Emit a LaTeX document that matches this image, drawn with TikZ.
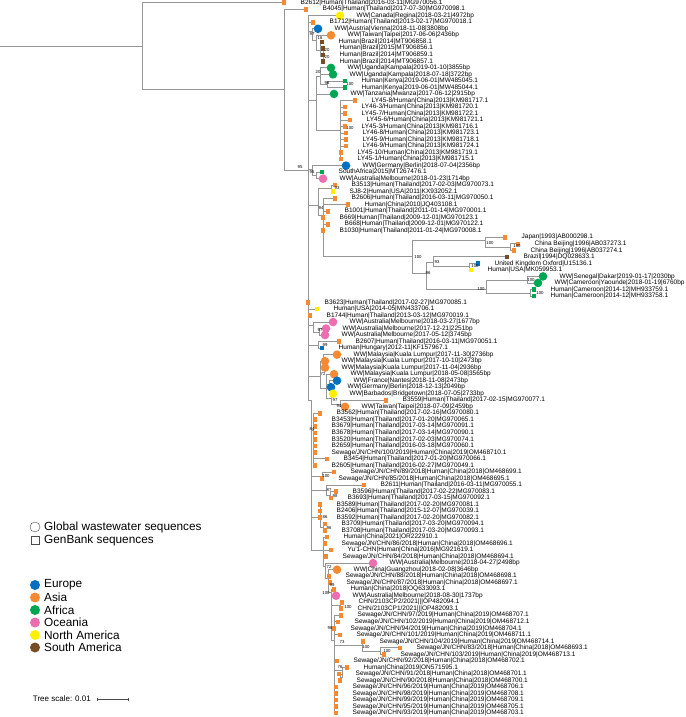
\documentclass[tikz,border=0pt]{standalone}
\usepackage{fontspec}
\setmainfont{Liberation Sans}
\usetikzlibrary{positioning}

\definecolor{asia}{RGB}{246,138,51}
\definecolor{europe}{RGB}{0,112,192}
\definecolor{africa}{RGB}{0,166,81}
\definecolor{oceania}{RGB}{236,110,176}
\definecolor{namer}{RGB}{255,240,0}
\definecolor{samer}{RGB}{117,76,36}
\definecolor{twig}{RGB}{150,150,150}

\pgfdeclarelayer{bg}
\pgfsetlayers{bg,main}

\tikzset{
  sq/.style={rectangle, minimum size=4.6pt, inner sep=0pt, fill=#1},
  ww/.style={circle, minimum size=8.6pt, inner sep=0pt, fill=#1},
  lbl/.style={anchor=west, inner sep=0pt, font=\fontsize{6.5}{7}\selectfont},
  bs/.style={inner sep=0pt, font=\fontsize{4.3}{4.3}\selectfont},
  branch/.style={draw=twig, line width=0.8pt},
  leg/.style={inner sep=0pt, anchor=west, font=\fontsize{11.8}{12}\selectfont}
}

% one tip: row, x of the symbol, symbol style, label
\newcommand{\leaf}[4]{%
  \node[#3] (L#1) at (#2,{2.7+6.517*#1}) {};
  \node[lbl] (T#1) at ({#2+16.5},{2.7+6.517*#1}) {#4};}
% parent and its children
\newcommand{\kids}[2]{\foreach \k in {#2} {\draw[branch] (#1) |- (\k);}}

\begin{document}
\begin{tikzpicture}[x=1pt, y=-1pt]
\useasboundingbox (0,0) rectangle (685,717);

% tips
\leaf{0}{284}{sq=asia}{B2612|Human|Thailand|2016-03-11|MG970056.1}
\leaf{1}{306}{sq=asia}{B4045|Human|Thailand|2017-07-30|MG970098.1}
\leaf{2}{340}{ww=namer}{WW|Canada|Regina|2018-03-21|4972bp}
\leaf{3}{313}{sq=asia}{B1712|Human|Thailand|2013-02-17|MG970018.1}
\leaf{4}{318}{ww=europe}{WW|Austria|Vienna|2018-11-08|3808bp}
\leaf{5}{331}{ww=asia}{WW|Taiwan|Taipei|2017-06-06|2436bp}
\leaf{6}{322}{sq=samer}{Human|Brazil|2014|MT906858.1}
\leaf{7}{323}{sq=samer}{Human|Brazil|2015|MT906856.1}
\leaf{8}{323}{sq=samer}{Human|Brazil|2014|MT906859.1}
\leaf{9}{323}{sq=samer}{Human|Brazil|2014|MT906857.1}
\leaf{10}{331}{ww=africa}{WW|Uganda|Kampala|2019-01-10|3855bp}
\leaf{11}{333}{ww=africa}{WW|Uganda|Kampala|2018-07-18|3722bp}
\leaf{12}{345}{sq=africa}{Human|Kenya|2019-06-01|MW485045.1}
\leaf{13}{345}{sq=africa}{Human|Kenya|2019-06-01|MW485044.1}
\leaf{14}{334}{ww=africa}{WW|Tanzania|Mwanza|2017-06-12|2915bp}
\leaf{15}{355}{sq=asia}{LY45-8/Human|China|2013|KM981717.1}
\leaf{16}{345}{sq=asia}{LY46-3/Human|China|2013|KM981720.1}
\leaf{17}{345}{sq=asia}{LY45-7/Human|China|2013|KM981722.1}
\leaf{18}{350}{sq=asia}{LY45-6/Human|China|2013|KM981721.1}
\leaf{19}{345}{sq=asia}{LY45-3/Human|China|2013|KM981716.1}
\leaf{20}{346}{sq=asia}{LY46-8/Human|China|2013|KM981723.1}
\leaf{21}{346}{sq=asia}{LY45-9/Human|China|2013|KM981718.1}
\leaf{22}{346}{sq=asia}{LY46-9/Human|China|2013|KM981724.1}
\leaf{23}{341}{sq=asia}{LY45-10/Human|China|2013|KM981719.1}
\leaf{24}{341}{sq=asia}{LY45-1/Human|China|2013|KM981715.1}
\leaf{25}{346}{ww=europe}{WW|Germany|Berlin|2018-07-04|2356bp}
\leaf{26}{322}{sq=africa}{SouthAfrica|2015|MT267476.1}
\leaf{27}{323}{ww=oceania}{WW|Australia|Melbourne|2018-01-23|1714bp}
\leaf{28}{335}{sq=asia}{B3513|Human|Thailand|2017-02-03|MG970073.1}
\leaf{29}{333}{sq=namer}{SJ8-2|Human|USA|2011|KX932052.1}
\leaf{30}{335}{sq=asia}{B2606|Human|Thailand|2016-03-11|MG970050.1}
\leaf{31}{348}{sq=asia}{Human|China|2010|JQ403108.1}
\leaf{32}{328}{sq=asia}{B1001|Human|Thailand|2011-01-14|MG970001.1}
\leaf{33}{323}{sq=asia}{B669|Human|Thailand|2009-12-01|MG970123.1}
\leaf{34}{328}{sq=asia}{B668|Human|Thailand|2009-12-01|MG970122.1}
\leaf{35}{323}{sq=asia}{B1030|Human|Thailand|2011-01-24|MG970008.1}
\leaf{36}{505}{sq=asia}{Japan|1993|AB000298.1}
\leaf{37}{518}{sq=asia}{China Beijing|1996|AB037273.1}
\leaf{38}{514}{sq=asia}{China Beijing|1996|AB037274.1}
\leaf{39}{507}{sq=samer}{Brazil|1994|DQ028633.1}
\leaf{40}{478}{sq=europe}{United Kingdom Oxford|U15136.1}
\leaf{41}{471}{sq=namer}{Human|USA|MK059953.1}
\leaf{42}{543}{ww=africa}{WW|Senegal|Dakar|2019-01-17|2030bp}
\leaf{43}{538}{ww=africa}{WW|Cameroon|Yaounde|2018-01-19|6760bp}
\leaf{44}{534}{sq=africa}{Human|Cameroon|2014-12|MH933759.1}
\leaf{45}{534}{sq=africa}{Human|Cameroon|2014-12|MH933758.1}
\leaf{46}{308}{sq=asia}{B3623|Human|Thailand|2017-02-27|MG970085.1}
\leaf{47}{317}{sq=namer}{Human|USA|2014-05|MN433706.1}
\leaf{48}{310}{sq=asia}{B1744|Human|Thailand|2013-03-12|MG970019.1}
\leaf{49}{333}{ww=oceania}{WW|Australia|Melbourne|2018-03-27|1677bp}
\leaf{50}{326}{ww=oceania}{WW|Australia|Melbourne|2017-12-21|2251bp}
\leaf{51}{325}{ww=oceania}{WW|Australia|Melbourne|2017-05-12|3745bp}
\leaf{52}{339}{sq=asia}{B2607|Human|Thailand|2016-03-11|MG970051.1}
\leaf{53}{322}{sq=europe}{Human|Hungary|2012-11|KF157967.1}
\leaf{54}{337}{ww=asia}{WW|Malaysia|Kuala Lumpur|2017-11-30|2736bp}
\leaf{55}{325}{ww=asia}{WW|Malaysia|Kuala Lumpur|2017-10-10|2473bp}
\leaf{56}{325}{ww=asia}{WW|Malaysia|Kuala Lumpur|2017-11-04|2936bp}
\leaf{57}{334}{ww=asia}{WW|Malaysia|Kuala Lumpur|2018-05-08|3565bp}
\leaf{58}{337}{ww=europe}{WW|France|Nantes|2018-11-08|2473bp}
\leaf{59}{331}{ww=europe}{WW|Germany|Berlin|2018-12-13|2049bp}
\leaf{60}{333}{ww=namer}{WW|Barbados|Bridgetown|2018-07-05|2733bp}
\leaf{61}{386}{sq=asia}{B3559|Human|Thailand|2017-02-15|MG970077.1}
\leaf{62}{345}{ww=asia}{WW|Taiwan|Taipei|2018-07-09|2459bp}
\leaf{63}{320}{sq=asia}{B3562|Human|Thailand|2017-02-16|MG970080.1}
\leaf{64}{315}{sq=asia}{B3453|Human|Thailand|2017-01-20|MG970065.1}
\leaf{65}{315}{sq=asia}{B3679|Human|Thailand|2017-03-14|MG970091.1}
\leaf{66}{315}{sq=asia}{B3678|Human|Thailand|2017-03-14|MG970090.1}
\leaf{67}{315}{sq=asia}{B3520|Human|Thailand|2017-02-03|MG970074.1}
\leaf{68}{315}{sq=asia}{B2659|Human|Thailand|2016-03-18|MG970060.1}
\leaf{69}{315}{sq=asia}{Sewage/JN/CHN/100/2019|Human|China|2019|OM468710.1}
\leaf{70}{327}{sq=asia}{B3454|Human|Thailand|2017-01-20|MG970066.1}
\leaf{71}{315}{sq=asia}{B2605|Human|Thailand|2016-02-27|MG970049.1}
\leaf{72}{334}{sq=asia}{Sewage/JN/CHN/89/2018|Human|China|2018|OM468699.1}
\leaf{73}{322}{sq=asia}{Sewage/JN/CHN/85/2018|Human|China|2018|OM468695.1}
\leaf{74}{364}{sq=asia}{B2611|Human|Thailand|2016-03-11|MG970055.1}
\leaf{75}{336}{sq=asia}{B3596|Human|Thailand|2017-02-22|MG970083.1}
\leaf{76}{331}{sq=asia}{B3693|Human|Thailand|2017-03-15|MG970092.1}
\leaf{77}{320}{sq=asia}{B3589|Human|Thailand|2017-02-20|MG970081.1}
\leaf{78}{320}{sq=asia}{B2406|Human|Thailand|2015-12-07|MG970039.1}
\leaf{79}{320}{sq=asia}{B3592|Human|Thailand|2017-02-20|MG970082.1}
\leaf{80}{325}{sq=asia}{B3709|Human|Thailand|2017-03-20|MG970094.1}
\leaf{81}{325}{sq=asia}{B3708|Human|Thailand|2017-03-20|MG970093.1}
\leaf{82}{327}{sq=asia}{Human|China|2021|OR222910.1}
\leaf{83}{325}{sq=asia}{Sewage/JN/CHN/86/2018|Human|China|2018|OM468696.1}
\leaf{84}{331}{sq=asia}{Yu'1-CHN|Human|China|2016|MG921619.1}
\leaf{85}{326}{sq=asia}{Sewage/JN/CHN/84/2018|Human|China|2018|OM468694.1}
\leaf{86}{373}{ww=oceania}{WW|Australia|Melbourne|2018-04-27|2498bp}
\leaf{87}{337}{ww=asia}{WW|China|Guangzhou|2018-02-08|3646bp}
\leaf{88}{329}{sq=asia}{Sewage/JN/CHN/88/2018|Human|China|2018|OM468698.1}
\leaf{89}{330}{sq=asia}{Sewage/JN/CHN/87/2018|Human|China|2018|OM468697.1}
\leaf{90}{334}{sq=asia}{Human|China|2018|OQ633093.1}
\leaf{91}{336}{ww=oceania}{WW|Australia|Melbourne|2018-08-30|1737bp}
\leaf{92}{342}{sq=asia}{CHN/2103CP2/2021|||OP482094.1}
\leaf{93}{341}{sq=asia}{CHN/2103CP1/2021|||OP482093.1}
\leaf{94}{341}{sq=asia}{Sewage/JN/CHN/97/2019|Human|China|2019|OM468707.1}
\leaf{95}{338}{sq=asia}{Sewage/JN/CHN/102/2019|Human|China|2019|OM468712.1}
\leaf{96}{334}{sq=asia}{Sewage/JN/CHN/94/2019|Human|China|2019|OM468704.1}
\leaf{97}{340}{sq=asia}{Sewage/JN/CHN/101/2019|Human|China|2019|OM468711.1}
\leaf{98}{363}{sq=asia}{Sewage/JN/CHN/104/2019|Human|China|2019|OM468714.1}
\leaf{99}{400}{sq=asia}{Sewage/JN/CHN/83/2018|Human|China|2018|OM468693.1}
\leaf{100}{384}{sq=asia}{Sewage/JN/CHN/103/2019|Human|China|2019|OM468713.1}
\leaf{101}{337}{sq=asia}{Sewage/JN/CHN/92/2018|Human|China|2018|OM468702.1}
\leaf{102}{347}{sq=asia}{Human|China|2019|ON571595.1}
\leaf{103}{339}{sq=asia}{Sewage/JN/CHN/91/2018|Human|China|2018|OM468701.1}
\leaf{104}{340}{sq=asia}{Sewage/JN/CHN/90/2018|Human|China|2018|OM468700.1}
\leaf{105}{336}{sq=asia}{Sewage/JN/CHN/96/2019|Human|China|2019|OM468706.1}
\leaf{106}{336}{sq=asia}{Sewage/JN/CHN/98/2019|Human|China|2019|OM468708.1}
\leaf{107}{336}{sq=asia}{Sewage/JN/CHN/99/2019|Human|China|2019|OM468709.1}
\leaf{108}{336}{sq=asia}{Sewage/JN/CHN/95/2019|Human|China|2019|OM468705.1}
\leaf{109}{336}{sq=asia}{Sewage/JN/CHN/93/2019|Human|China|2019|OM468703.1}

% inner nodes
\coordinate (base) at (0,46);
\coordinate (root) at (142,46);
\coordinate (n1) at (284,89);
\coordinate (n2) at (308,170);
\coordinate (nAu) at (312,31);
\coordinate (nAu2) at (316,40);
\coordinate (nBr) at (320,50);
\coordinate (nBr2) at (323,56);
\coordinate (nEa) at (316,100);
\coordinate (nUg) at (320,76);
\coordinate (nKe) at (327,84);
\coordinate (nLy) at (340,130);
\coordinate (nGe) at (312,169);
\coordinate (nSa) at (316,175);
\coordinate (nTh) at (318,205);
\coordinate (nSj) at (331,188.5);
\coordinate (nCn) at (323,215);
\coordinate (nRs) at (412,256);
\coordinate (nJc) at (485,240.5);
\coordinate (nCb) at (510,247);
\coordinate (nX) at (426,273);
\coordinate (nY) at (433,262);
\coordinate (nUu) at (469,266.5);
\coordinate (nZ) at (486,289);
\coordinate (nSc) at (527,280);
\coordinate (nHc) at (530,293);
\coordinate (nPk) at (313,325);
\coordinate (nPk2) at (319,332);
\coordinate (nHu) at (318,345);
\coordinate (nMy) at (320,376);
\coordinate (nMy1) at (323,361);
\coordinate (nMy2) at (326,388);
\coordinate (nMy3) at (329,384);
\coordinate (nMy4) at (331,398);
\coordinate (nMy5) at (340,404);
\coordinate (nLo) at (311,400);
\coordinate (nB0) at (313,430);
\coordinate (nS) at (322,476);
\coordinate (nBx) at (326,490);
\coordinate (nBx2) at (330,495);
\coordinate (nC) at (320,517);
\coordinate (nC2) at (323,527);
\coordinate (nK1) at (323,550);
\coordinate (nK2) at (325,566);
\coordinate (nK3) at (328,578);
\coordinate (nK4) at (331,592);
\coordinate (nCp) at (340,605);
\coordinate (nK5) at (334,640);
\coordinate (nR1) at (362,645);
\coordinate (nR3) at (380,651);
\coordinate (nR2) at (342,670);
\coordinate (nR4) at (340,677);

\begin{pgfonlayer}{bg}
\draw[branch] (base) -- (root);
\kids{root}{L0,n1}
\kids{n1}{L1,n2}
\kids{n2}{L2,L3,nAu,nEa,nGe,nTh,L46,L47,L48,nPk,nHu,nMy,nLo}
\kids{nAu}{L4,nAu2}
\kids{nAu2}{L5,nBr}
\kids{nBr}{L6,nBr2}
\kids{nBr2}{L7,L8,L9}
\kids{nEa}{nUg,L14,nLy}
\kids{nUg}{L10,L11,nKe}
\kids{nKe}{L12,L13}
\kids{nLy}{L15,L16,L17,L18,L19,L20,L21,L22,L23,L24}
\kids{nGe}{L25,nSa}
\kids{nSa}{L26,L27}
\kids{nTh}{nSj,nCn}
\kids{nSj}{L28,L29}
\kids{nCn}{L30,L31,L32,L33,L34,L35,nRs}
\kids{nRs}{nJc,nX}
\kids{nJc}{L36,nCb}
\kids{nCb}{L37,L38}
\kids{nX}{nY,nZ}
\kids{nY}{L39,nUu}
\kids{nUu}{L40,L41}
\kids{nZ}{nSc,nHc}
\kids{nSc}{L42,L43}
\kids{nHc}{L44,L45}
\kids{nPk}{L49,nPk2}
\kids{nPk2}{L50,L51}
\kids{nHu}{L52,L53}
\kids{nMy}{nMy1,nMy2}
\kids{nMy1}{L54,L55,L56}
\kids{nMy2}{L57,nMy3,nMy4}
\kids{nMy3}{L58,L59}
\kids{nMy4}{L60,nMy5}
\kids{nMy5}{L61,L62}
\kids{nLo}{nB0,nS,nBx,nC,nK1}
\kids{nB0}{L63,L64,L65,L66,L67,L68,L69,L70,L71}
\kids{nS}{L72,L73}
\kids{nBx}{L74,nBx2}
\kids{nBx2}{L75,L76}
\kids{nC}{L77,L78,L79,nC2}
\kids{nC2}{L80,L81}
\kids{nK1}{L82,L83,L84,L85,nK2}
\kids{nK2}{L86,nK3}
\kids{nK3}{L87,L88,L89,nK4}
\kids{nK4}{L90,L91,nCp,nK5}
\kids{nCp}{L92,L93}
\kids{nK5}{L94,L95,L96,L97,nR1,L101,nR2,L105,L106,L107,L108,L109}
\kids{nR1}{L98,nR3}
\kids{nR3}{L99,L100}
\kids{nR2}{L102,nR4}
\kids{nR4}{L103,L104}
\end{pgfonlayer}

% bootstrap values
\foreach \bx/\by/\bv [count=\i] in {300/167/95, 312/34/97, 320/38/16, 327/50/20, 327/57/20,
  318/72/20, 327/83/96, 350/84/100, 350/128/100, 312/172/95, 337/188/93, 321/208/94,
  418/257/100, 490/243/100, 517/246/100, 437/262/93, 475/266/100, 428/273/96,
  481/289/100, 531/280/100, 540/293/100, 320/330/97, 325/345/99, 323/374/72,
  335/400/97, 339/406/94, 312/429/84, 326/476/100, 329/490/87, 335/496/98,
  325/517/86, 329/528/96, 329/567/72, 332/585/99, 326/593/100, 348/607/100,
  330/628/96, 342/642/73, 366/647/100, 387/651/100, 340/667/76}
  \node[bs] (b\i) at (\bx,\by) {\bv};

% legend
\node[draw=black!70, fill=white, circle, minimum size=10pt, inner sep=0pt] (kw) at (35,527) {};
\node[leg] (kwt) at (44,527) {Global wastewater sequences};
\node[draw=black!70, fill=white, rectangle, minimum size=8pt, inner sep=0pt] (kg) at (35,540) {};
\node[leg] (kgt) at (44,540) {GenBank sequences};
\foreach \cc/\cn [count=\i] in {europe/Europe, asia/Asia, africa/Africa, oceania/Oceania,
  namer/North America, samer/South America}
{
  \node[ww=\cc, minimum size=10pt] (k\i) at (35,{585+12.5*(\i-1)}) {};
  \node[leg] (kt\i) at (44,{585+12.5*(\i-1)}) {\cn};
}

% scale bar
\node[anchor=east, inner sep=0pt, font=\fontsize{8}{9}\selectfont] (tsl) at (91,699) {Tree scale: 0.01};
\coordinate (ts0) at (97,699);
\coordinate (ts1) at (128,699);
\draw[black!70, line width=0.6pt] (ts0) -- (ts1);
\draw[black!70, line width=0.6pt] ([yshift=-1.5pt]ts0) -- ([yshift=1.5pt]ts0);
\draw[black!70, line width=0.6pt] ([yshift=-1.5pt]ts1) -- ([yshift=1.5pt]ts1);
\end{tikzpicture}
\end{document}
